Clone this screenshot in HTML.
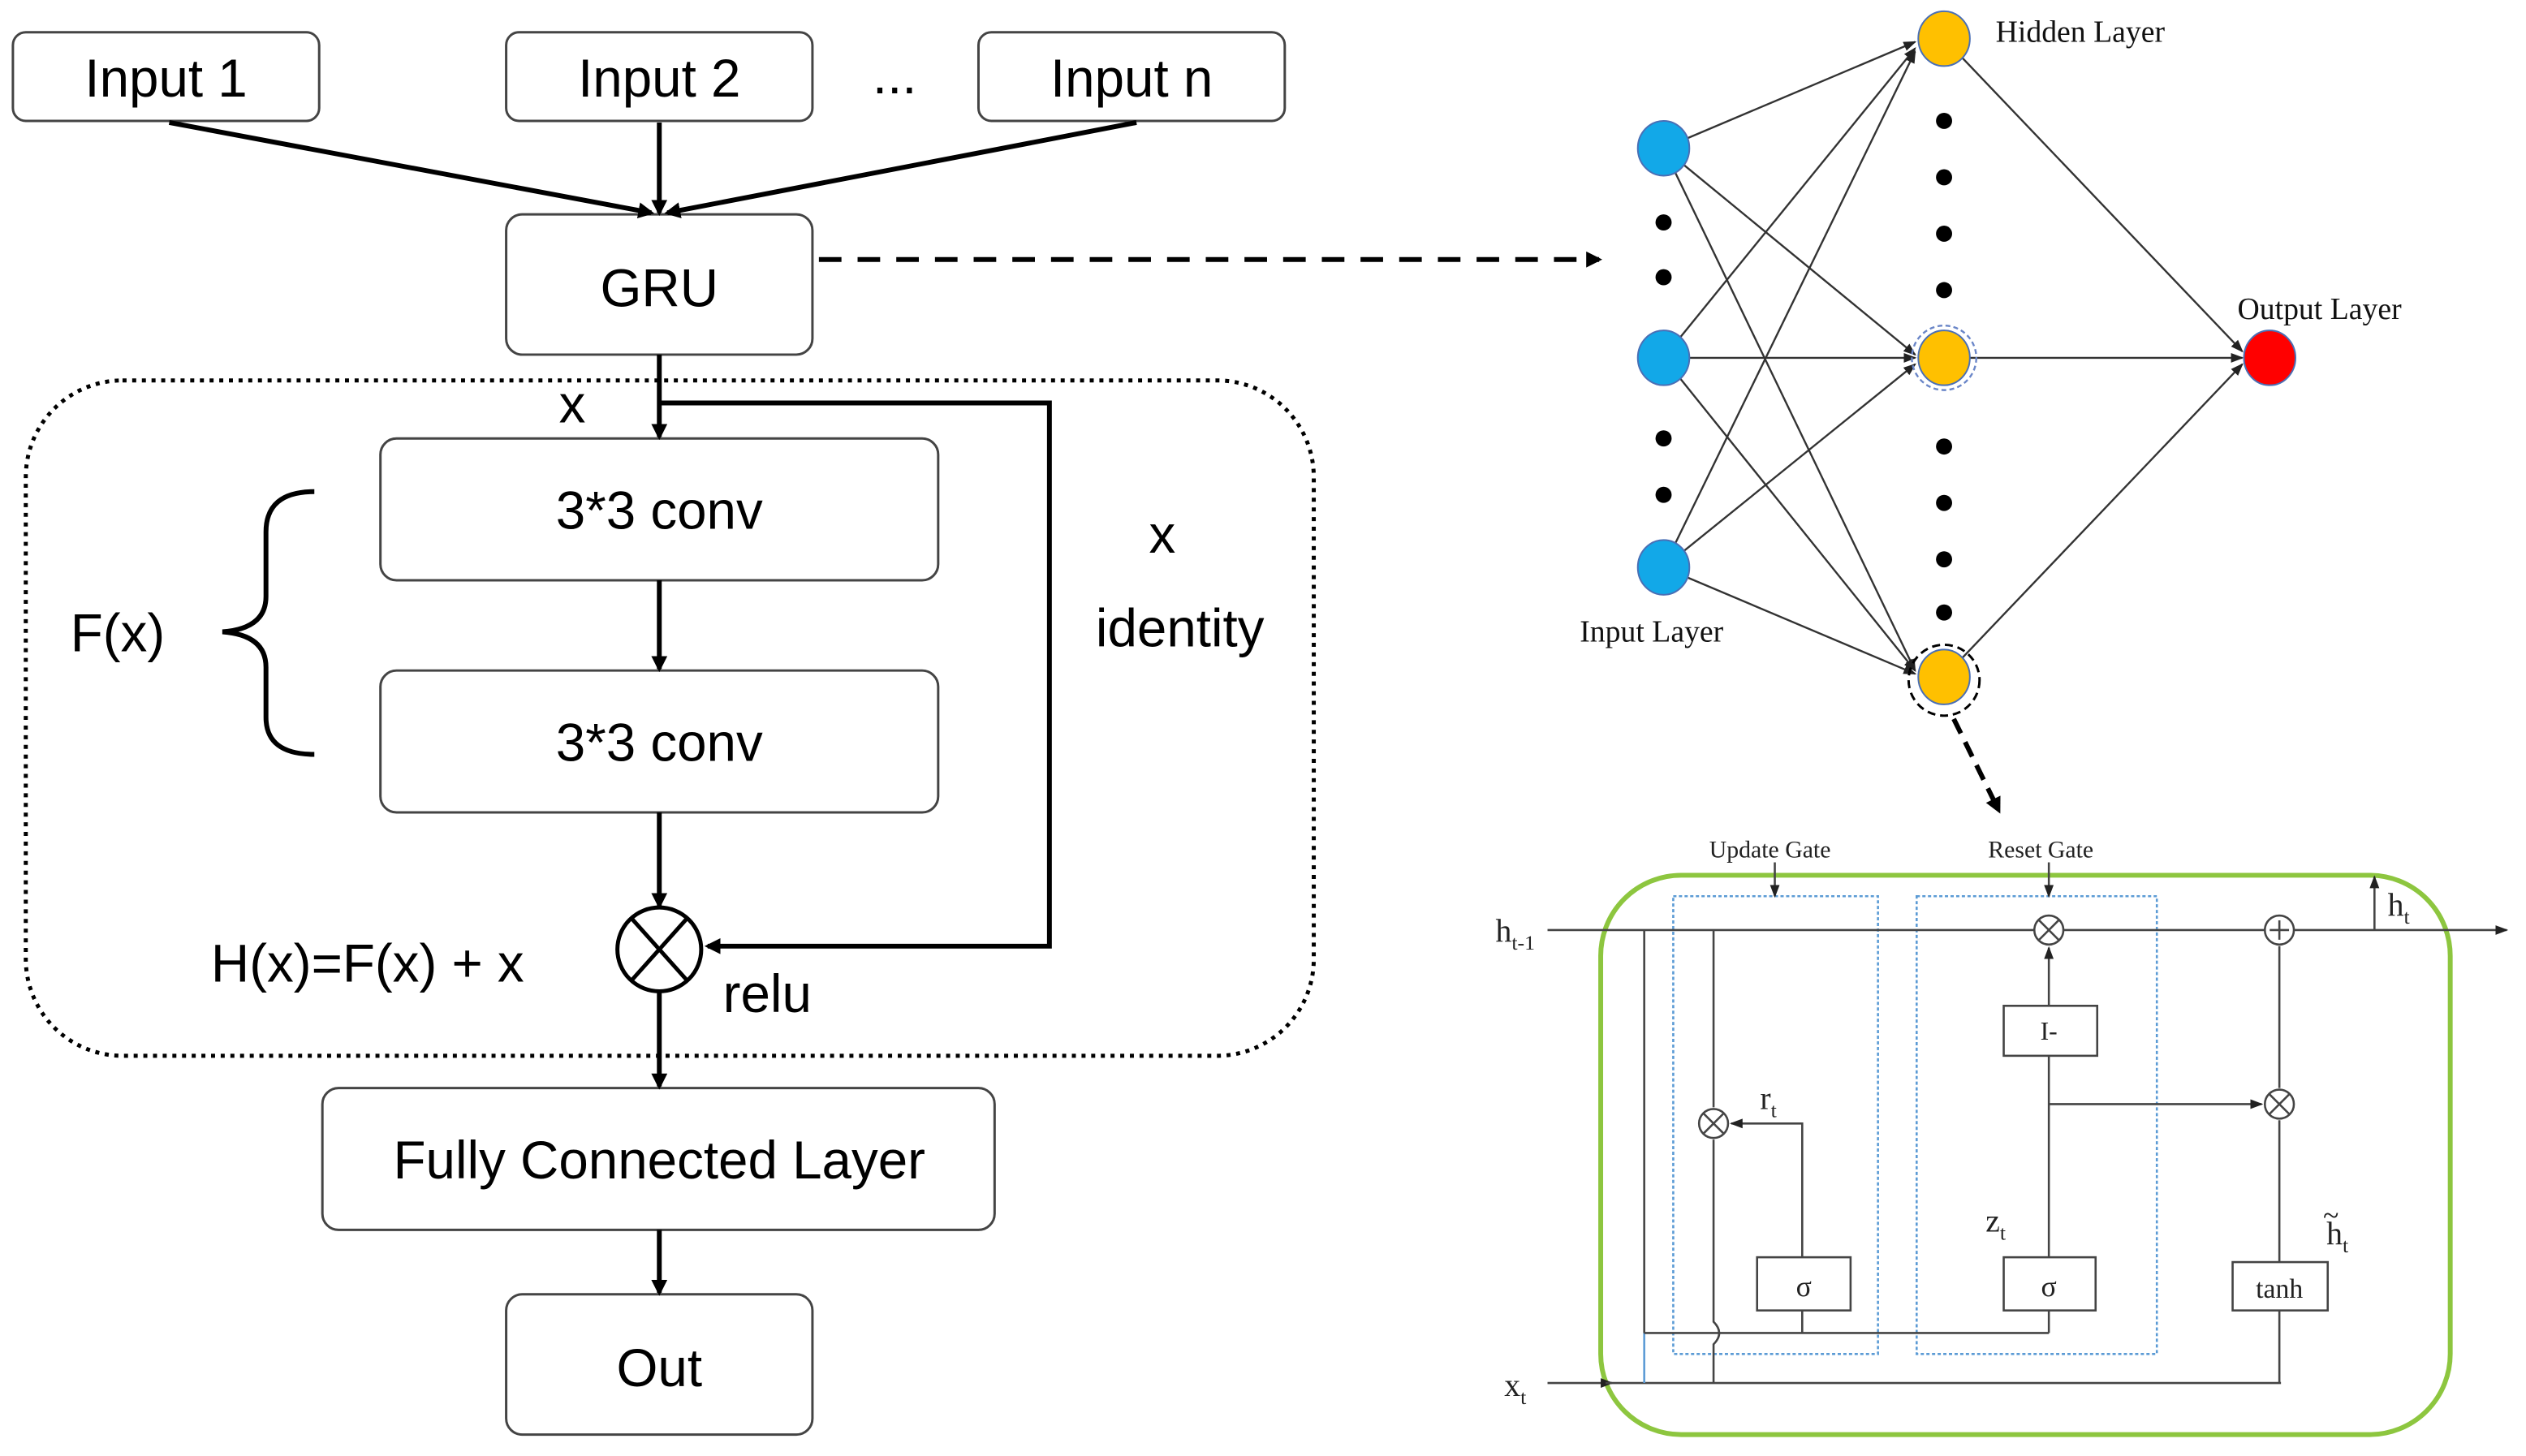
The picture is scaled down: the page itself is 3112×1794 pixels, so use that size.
<!DOCTYPE html>
<html><head><meta charset="utf-8"><style>html,body{margin:0;padding:0;background:#fff}svg{display:block}</style></head>
<body>
<svg width="3112" height="1794" viewBox="0 0 1567 903.3" preserveAspectRatio="none" xmlns="http://www.w3.org/2000/svg">
<defs>
<marker id="a" markerWidth="10" markerHeight="10" refX="8" refY="5" orient="auto" markerUnits="userSpaceOnUse"><path d="M0,0 L10,5 L0,10 z" fill="#000"/></marker>
<marker id="s" markerWidth="8" markerHeight="8" refX="7" refY="4" orient="auto" markerUnits="userSpaceOnUse"><path d="M0,1 L8,4 L0,7 z" fill="#222"/></marker>
</defs>
<rect width="1567" height="904" fill="#fff"/>
<g font-family="'Liberation Sans','DejaVu Sans',sans-serif" font-size="33" fill="#000" text-anchor="middle">
<g fill="#fff" stroke="#444" stroke-width="1.5">
<rect x="8" y="20" width="190" height="55" rx="8"/>
<rect x="314" y="20" width="190" height="55" rx="8"/>
<rect x="607" y="20" width="190" height="55" rx="8"/>
<rect x="314" y="133" width="190" height="87" rx="10"/>
<rect x="236" y="272" width="346" height="88" rx="10"/>
<rect x="236" y="416" width="346" height="88" rx="10"/>
<rect x="200" y="675" width="417" height="88" rx="10"/>
<rect x="314" y="803" width="190" height="87" rx="10"/>
</g>
<text x="103" y="60">Input 1</text>
<text x="409" y="60">Input 2</text>
<text x="555" y="58">...</text>
<text x="702" y="60">Input n</text>
<text x="409" y="190">GRU</text>
<text x="409" y="328">3*3 conv</text>
<text x="409" y="472">3*3 conv</text>
<text x="409" y="731">Fully Connected Layer</text>
<text x="409" y="860">Out</text>
<text x="355" y="262">x</text>
<text x="73" y="404">F(x)</text>
<text x="721" y="343">x</text>
<text x="732" y="401">identity</text>
<text x="228" y="609">H(x)=F(x) + x</text>
<text x="476" y="628">relu</text>
</g>
<g stroke="#000" stroke-width="3" fill="none">
<line x1="105" y1="76" x2="404" y2="132" marker-end="url(#a)"/>
<line x1="409" y1="76" x2="409" y2="132" marker-end="url(#a)"/>
<line x1="705" y1="76" x2="414" y2="132" marker-end="url(#a)"/>
<line x1="508" y1="161" x2="992" y2="161" stroke-dasharray="14,10" marker-end="url(#a)"/>
<rect x="16" y="236" width="799" height="419" rx="60" stroke-width="2.5" stroke-dasharray="2.5,3.5"/>
<line x1="409" y1="220" x2="409" y2="271" marker-end="url(#a)"/>
<polyline points="409,250 651,250 651,587 439,587" marker-end="url(#a)"/>
<line x1="409" y1="360" x2="409" y2="415" marker-end="url(#a)"/>
<line x1="409" y1="504" x2="409" y2="562" marker-end="url(#a)"/>
<line x1="409" y1="615" x2="409" y2="674" marker-end="url(#a)"/>
<line x1="409" y1="763" x2="409" y2="802" marker-end="url(#a)"/>
<circle cx="409" cy="589" r="26" stroke-width="2.5"/>
<line x1="392" y1="570" x2="426" y2="608" stroke-width="2.5"/>
<line x1="426" y1="570" x2="392" y2="608" stroke-width="2.5"/>
<path d="M195,305 Q165,305 165,330 L165,370 Q165,390 138,392 Q165,394 165,414 L165,445 Q165,468 195,468" stroke-width="3"/>
</g>
<!-- NN -->
<g stroke="#333" stroke-width="1.2" fill="none">
<g marker-end="url(#s)">
<line x1="1032" y1="92" x2="1188" y2="26"/><line x1="1032" y1="92" x2="1188" y2="220"/><line x1="1032" y1="92" x2="1188" y2="416"/>
<line x1="1032" y1="222" x2="1188" y2="30"/><line x1="1032" y1="222" x2="1188" y2="222"/><line x1="1032" y1="222" x2="1188" y2="416"/>
<line x1="1032" y1="352" x2="1188" y2="32"/><line x1="1032" y1="352" x2="1188" y2="226"/><line x1="1032" y1="352" x2="1188" y2="418"/>
<line x1="1206" y1="24" x2="1391" y2="218"/><line x1="1206" y1="222" x2="1391" y2="222"/><line x1="1206" y1="420" x2="1391" y2="226"/>
</g>
</g>
<g stroke="#4a6fb5" stroke-width="1">
<ellipse cx="1032" cy="92" rx="16" ry="17" fill="#12a8e8"/>
<ellipse cx="1032" cy="222" rx="16" ry="17" fill="#12a8e8"/>
<ellipse cx="1032" cy="352" rx="16" ry="17" fill="#12a8e8"/>
<ellipse cx="1206" cy="24" rx="16" ry="17" fill="#ffc000"/>
<ellipse cx="1206" cy="222" rx="16" ry="17" fill="#ffc000"/>
<ellipse cx="1206" cy="420" rx="16" ry="17" fill="#ffc000"/>
<ellipse cx="1408" cy="222" rx="16" ry="17" fill="#ff0000"/>
</g>
<circle cx="1206" cy="222" r="20" fill="none" stroke="#6a86c8" stroke-width="1.2" stroke-dasharray="3,2"/>
<circle cx="1206" cy="422" r="22" fill="none" stroke="#000" stroke-width="1.5" stroke-dasharray="5,3"/>
<line x1="1212" y1="446" x2="1240" y2="503" stroke="#000" stroke-width="3" stroke-dasharray="10,6" marker-end="url(#a)"/>
<g fill="#000">
<circle cx="1032" cy="138" r="5"/><circle cx="1032" cy="172" r="5"/><circle cx="1032" cy="272" r="5"/><circle cx="1032" cy="307" r="5"/>
<circle cx="1206" cy="75" r="5"/><circle cx="1206" cy="110" r="5"/><circle cx="1206" cy="145" r="5"/><circle cx="1206" cy="180" r="5"/>
<circle cx="1206" cy="277" r="5"/><circle cx="1206" cy="312" r="5"/><circle cx="1206" cy="347" r="5"/><circle cx="1206" cy="380" r="5"/>
</g>
<g font-family="'Liberation Serif',serif" font-size="19" fill="#111">
<text x="1238" y="26">Hidden Layer</text>
<text x="1388" y="198">Output Layer</text>
<text x="980" y="398">Input Layer</text>
</g>
<!-- GRU cell -->
<rect x="993" y="543" width="527" height="347" rx="50" fill="none" stroke="#8dc63f" stroke-width="3"/>
<g fill="none" stroke="#5b9bd5" stroke-width="1.3" stroke-dasharray="2,1.5">
<rect x="1038" y="556" width="127" height="284"/>
<rect x="1189" y="556" width="149" height="284"/>
</g>
<g stroke="#444" stroke-width="1.3" fill="none">
<line x1="960" y1="577" x2="1555" y2="577" marker-end="url(#s)"/>
<line x1="960" y1="858" x2="1000" y2="858" marker-end="url(#s)"/>
<line x1="996" y1="858" x2="1415" y2="858"/>
<line x1="1473" y1="577" x2="1473" y2="544" marker-end="url(#s)"/>
<line x1="1020" y1="577" x2="1020" y2="827"/>
<line x1="1020" y1="827" x2="1020" y2="858" stroke="#5b9bd5"/>
<line x1="1020" y1="827" x2="1271" y2="827"/>
<path d="M1063,577 L1063,687 M1063,707 L1063,820 Q1070,827 1063,834 L1063,858"/>
<polyline points="1118,780 1118,697 1074,697" marker-end="url(#s)"/>
<line x1="1118" y1="813" x2="1118" y2="827"/>
<line x1="1271" y1="827" x2="1271" y2="813"/>
<line x1="1271" y1="780" x2="1271" y2="655"/>
<line x1="1271" y1="624" x2="1271" y2="588" marker-end="url(#s)"/>
<line x1="1271" y1="685" x2="1403" y2="685" marker-end="url(#s)"/>
<line x1="1414" y1="587" x2="1414" y2="675"/>
<line x1="1414" y1="695" x2="1414" y2="783"/>
<line x1="1414" y1="813" x2="1414" y2="858"/>
<line x1="1101" y1="535" x2="1101" y2="556" marker-end="url(#s)"/>
<line x1="1271" y1="535" x2="1271" y2="556" marker-end="url(#s)"/>
<g fill="#fff">
<circle cx="1063" cy="697" r="9"/><circle cx="1271" cy="577" r="9"/><circle cx="1414" cy="685" r="9"/><circle cx="1414" cy="577" r="9"/>
<rect x="1090" y="780" width="58" height="33"/><rect x="1243" y="780" width="57" height="33"/><rect x="1243" y="624" width="58" height="31"/><rect x="1385" y="783" width="59" height="30"/>
</g>
<path d="M1057,691 L1069,703 M1069,691 L1057,703 M1265,571 L1277,583 M1277,571 L1265,583 M1408,679 L1420,691 M1420,679 L1408,691 M1414,571 L1414,583 M1408,577 L1420,577"/>
</g>
<g font-family="'Liberation Serif',serif" fill="#222" text-anchor="middle">
<text x="1098" y="532" font-size="15">Update Gate</text>
<text x="1266" y="532" font-size="15">Reset Gate</text>
<text x="1119" y="804" font-size="18">σ</text>
<text x="1271" y="804" font-size="18">σ</text>
<text x="1271" y="645" font-size="16">I-</text>
<text x="1414" y="805" font-size="17">tanh</text>
<text x="940" y="584" font-size="20">h<tspan font-size="13" dy="5">t-1</tspan></text>
<text x="1488" y="568" font-size="20">h<tspan font-size="13" dy="5">t</tspan></text>
<text x="940" y="866" font-size="20">x<tspan font-size="13" dy="5">t</tspan></text>
<text x="1097" y="688" font-size="20">r<tspan font-size="13" dy="5">t</tspan></text>
<text x="1238" y="764" font-size="20">z<tspan font-size="13" dy="5">t</tspan></text>
<text x="1450" y="772" font-size="20">h<tspan font-size="13" dy="5">t</tspan></text>
<text x="1446" y="760" font-size="18">~</text>
</g>
</svg>
</body></html>
